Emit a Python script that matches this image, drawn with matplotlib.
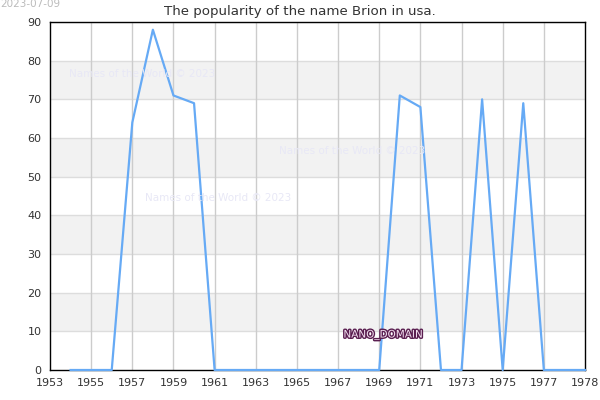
import matplotlib
matplotlib.use("Agg")
import matplotlib.pyplot as plt
import matplotlib.patheffects as pe

years = [1954, 1955, 1956, 1957, 1958, 1959, 1960, 1961, 1962, 1963, 1964, 1965, 1966,
         1967, 1968, 1969, 1970, 1971, 1972, 1973, 1974, 1975, 1976, 1977, 1978, 1979]
values = [0, 0, 0, 64, 88, 71, 69, 0, 0, 0, 0, 0, 0,
          0, 0, 0, 71, 68, 0, 0, 70, 0, 69, 0, 0, 0]
xtick_pos = [1953, 1955, 1957, 1959, 1961, 1963, 1965, 1967, 1969, 1971, 1973, 1975, 1977, 1979]
xtick_labels = ["1953", "1955", "1957", "1959", "1961", "1963", "1965", "1967", "1969",
                "1971", "1973", "1975", "1977", "1978"]
yticks = [0, 10, 20, 30, 40, 50, 60, 70, 80, 90]

fig = plt.figure(figsize=(6, 4), dpi=100)
ax = fig.add_axes([50/600, 30/400, 535/600, 348/400])
ax.set_xlim(1953, 1979)
ax.set_ylim(0, 90)

for lo in [10, 30, 50, 70]:
    ax.axhspan(lo, lo + 10, color="#f2f2f2", zorder=0, lw=0)
for y in yticks[1:]:
    ax.axhline(y, color="#dddddd", lw=1, zorder=1)
for x in xtick_pos[1:-1]:
    ax.axvline(x, color="#cccccc", lw=1, zorder=1)

ax.plot(years, values, color="#66aaf5", lw=1.6, zorder=3, clip_on=False)

ax.set_xticks(xtick_pos)
ax.set_xticklabels(xtick_labels)
ax.set_yticks(yticks)
ax.tick_params(length=0, labelsize=8, labelcolor="#333333", pad=6)
for s in ax.spines.values():
    s.set_color("black")
    s.set_linewidth(1)

fig.text(0.5, 1 - 11/400, "The popularity of the name Brion in usa.", ha="center", va="center",
         fontsize=9.6, color="#333333")
fig.text(0, 1 - 4/400, "2023-07-09", ha="left", va="center", fontsize=7.5, color="#bbbbbb")

wm = "Names of the World © 2023"
for (px, py) in [(142, 74), (352, 151), (218, 198)]:
    fig.text(px/600, 1 - py/400, wm, ha="center", va="center", fontsize=7.5, color="#e8e8f6", zorder=2)

t = fig.text(383/600, 1 - 335/400, "NANO_DOMAIN", ha="center", va="center", fontsize=7.5,
             color="#f3e0f0", zorder=5)
t.set_path_effects([pe.withStroke(linewidth=2, foreground="#5a1e50")])

fig.savefig("out.png", dpi=100)
